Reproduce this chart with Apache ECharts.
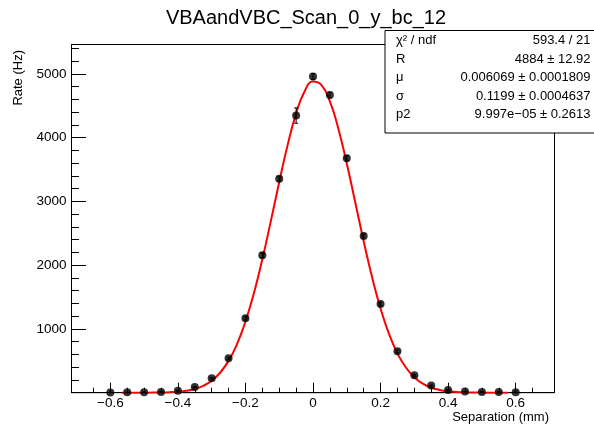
<!DOCTYPE html>
<html>
<head>
<meta charset="utf-8">
<script src="https://cdn.jsdelivr.net/npm/echarts@6/dist/echarts.min.js"></script>
<style>
html,body{margin:0;padding:0;background:#fff;}
#chart{width:594px;height:426px;}
</style>
</head>
<body>
<div id="chart"></div>
<script>
// ---- data ----
const separation = [-0.6,-0.55,-0.5,-0.45,-0.4,-0.35,-0.3,-0.25,-0.2,-0.15,-0.1,-0.05,0,0.05,0.1,0.15,0.2,0.25,0.3,0.35,0.4,0.45,0.5,0.55,0.6];
const rate = [5,6,7,12,30,90,227,540,1168,2156,3353,4346,4958,4667,3678,2459,1392,650,274,111,43,17,12,10,8];
const rateError = [2,2,2,3,5,8,12,18,26,35,40,120,45,44,40,35,28,20,13,9,5,3,2,2,2];
const fitX = [-0.565,-0.55,-0.525,-0.5,-0.475,-0.45,-0.425,-0.4,-0.375,-0.35,-0.325,-0.3,-0.275,-0.25,-0.225,-0.2,-0.175,-0.15,-0.125,-0.1,-0.075,-0.05,-0.025,0,0.025,0.05,0.075,0.1,0.125,0.15,0.175,0.2,0.225,0.25,0.275,0.3,0.325,0.35,0.375,0.4,0.425,0.45,0.475,0.5,0.525,0.55,0.577];
const fitY = [0,0.1,0.3,0.7,1.6,3.5,7.6,15.8,31,59,108,188,313,499,762,1116,1561,2093,2687,3303,3886,4378,4723,4878,4824,4567,4140,3594,2986,2376,1810,1320,922,616,395,242,142,80,43,22,11,5,2,1,0.4,0.2,0.1];
const xMajorTicks = [-0.6,-0.4,-0.2,0,0.2,0.4,0.6];
const xMinorTicks = [-0.65,-0.55,-0.5,-0.45,-0.35,-0.3,-0.25,-0.15,-0.1,-0.05,0.05,0.1,0.15,0.25,0.3,0.35,0.45,0.5,0.55,0.65];
const yMajorTicks = [1000,2000,3000,4000,5000];
const yMinorTicks = [200,400,600,800,1200,1400,1600,1800,2200,2400,2600,2800,3200,3400,3600,3800,4200,4400,4600,4800,5200,5400];
const statLabels = ['χ² / ndf','R','μ','σ','p2'];
const statValues = ['593.4 / 21','4884 ± 12.92','0.006069 ± 0.0001809','0.1199 ± 0.0004637','9.997e−05 ± 0.2613'];
const titleText = 'VBAandVBC_Scan_0_y_bc_12';
const xTitle = 'Separation (mm)';
const yTitle = 'Rate (Hz)';

// ---- layout ----
const FONT = '"Liberation Sans", Arial, Helvetica, sans-serif';
const X_MIN = -0.715, X_MAX = 0.715, Y_MIN = 0, Y_MAX = 5460;
const GL = 71.5, GT = 44.5, GR = 594 - 554.5, GB = 426 - 392.7;

const points = separation.map((x, i) => [x, rate[i]]);
const errPts = separation.map((x, i) => [x, rate[i], rateError[i]]);
const fitLine = fitX.map((x, i) => [x, fitY[i]]);

function fmtX(v) {
  if (Math.abs(v) < 1e-9) return '0';
  const s = (Math.round(v * 10) / 10).toString();
  return s.replace('-', '\u2212');
}
function fmtY(v) { return String(Math.round(v)); }

const chart = echarts.init(document.getElementById('chart'), null, {renderer: 'canvas'});

const statGraphics = [];
const statTop = 40.5, statStep = 18.6;
statLabels.forEach((t, i) => {
  statGraphics.push({
    type: 'text', x: 396, y: statTop + i * statStep, z: 101,
    style: {text: t, fill: '#000', font: '13px ' + FONT, textAlign: 'left', textVerticalAlign: 'middle'}
  });
  statGraphics.push({
    type: 'text', x: 590.5, y: statTop + i * statStep, z: 101,
    style: {text: statValues[i], fill: '#000', font: '13px ' + FONT, textAlign: 'right', textVerticalAlign: 'middle'}
  });
});

const option = {
  backgroundColor: '#fff',
  animation: false,
  graphic: [
    {type: 'text', x: 306, y: 18, z: 50,
     style: {text: titleText, fill: '#000', font: '20px ' + FONT, textAlign: 'center', textVerticalAlign: 'middle'}},
    {type: 'text', x: 18, y: 50, rotation: Math.PI / 2,
     style: {text: yTitle, fill: '#000', font: '13px ' + FONT, textAlign: 'right', textVerticalAlign: 'middle'}},
    {type: 'text', x: 549, y: 417.5,
     style: {text: xTitle, fill: '#000', font: '13px ' + FONT, textAlign: 'right', textVerticalAlign: 'middle'}},
    {type: 'rect', shape: {x: 385, y: 30.5, width: 215, height: 102.5}, z: 100,
     style: {fill: '#fff', stroke: '#000', lineWidth: 1}}
  ].concat(statGraphics),
  grid: {left: GL, top: GT, right: GR, bottom: GB, show: true, borderColor: '#000', borderWidth: 1, backgroundColor: 'transparent'},
  xAxis: [{
    type: 'value', min: X_MIN, max: X_MAX, position: 'bottom',
    axisLine: {show: true, onZero: false, lineStyle: {color: '#000', width: 1}},
    axisTick: {show: true, inside: true, length: 10, customValues: xMajorTicks, lineStyle: {color: '#000'}},
    axisLabel: {show: true, customValues: xMajorTicks, formatter: fmtX, color: '#000', fontFamily: FONT, fontSize: 13.5, margin: 4},
    splitLine: {show: false}
  }, {
    type: 'value', min: X_MIN, max: X_MAX, position: 'bottom',
    axisLine: {show: false, onZero: false},
    axisTick: {show: true, inside: true, length: 5, customValues: xMinorTicks, lineStyle: {color: '#000'}},
    axisLabel: {show: false},
    splitLine: {show: false}
  }],
  yAxis: [{
    type: 'value', min: Y_MIN, max: Y_MAX, position: 'left',
    axisLine: {show: true, onZero: false, lineStyle: {color: '#000', width: 1}},
    axisTick: {show: true, inside: true, length: 14.5, customValues: yMajorTicks, lineStyle: {color: '#000'}},
    axisLabel: {show: true, customValues: yMajorTicks, formatter: fmtY, color: '#000', fontFamily: FONT, fontSize: 13.5, margin: 5},
    splitLine: {show: false}
  }, {
    type: 'value', min: Y_MIN, max: Y_MAX, position: 'left',
    axisLine: {show: false, onZero: false},
    axisTick: {show: true, inside: true, length: 7.5, customValues: yMinorTicks, lineStyle: {color: '#000'}},
    axisLabel: {show: false},
    splitLine: {show: false}
  }],
  series: [{
    type: 'line', xAxisIndex: 0, yAxisIndex: 0, data: fitLine, smooth: true, showSymbol: false,
    lineStyle: {color: '#ff0000', width: 2}, z: 3, silent: true
  }, {
    type: 'custom', xAxisIndex: 0, yAxisIndex: 0, data: errPts, z: 4, silent: true,
    renderItem: function (params, api) {
      const x = api.value(0), y = api.value(1), e = api.value(2);
      const top = api.coord([x, y + e]);
      const bot = api.coord([x, y - e]);
      return {type: 'group', children: [
        {type: 'line', shape: {x1: top[0], y1: top[1], x2: bot[0], y2: bot[1]}, style: {stroke: '#000', lineWidth: 1}},
        {type: 'line', shape: {x1: top[0] - 2, y1: top[1], x2: top[0] + 2, y2: top[1]}, style: {stroke: '#000', lineWidth: 1}},
        {type: 'line', shape: {x1: bot[0] - 2, y1: bot[1], x2: bot[0] + 2, y2: bot[1]}, style: {stroke: '#000', lineWidth: 1}}
      ]};
    }
  }, {
    type: 'scatter', xAxisIndex: 0, yAxisIndex: 0, data: points, symbol: 'circle', symbolSize: 8,
    itemStyle: {color: '#000'}, z: 5, silent: true
  }]
};
chart.setOption(option);
</script>
</body>
</html>
